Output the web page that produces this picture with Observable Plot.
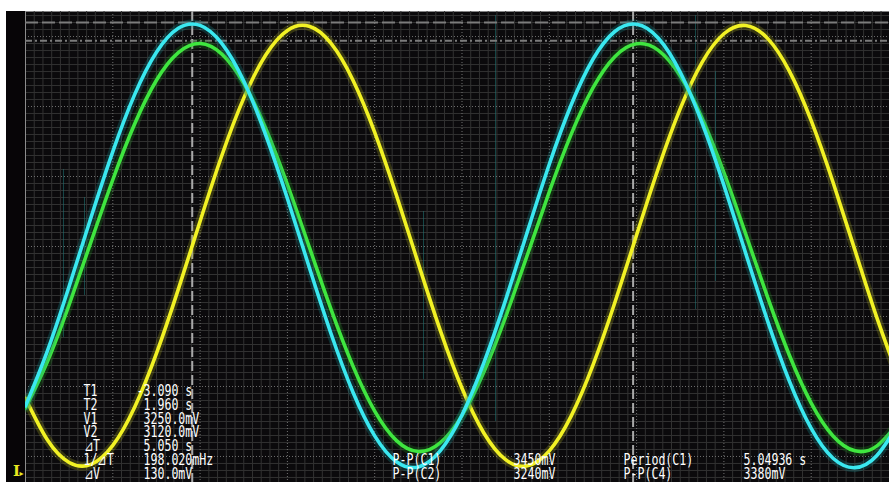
<!DOCTYPE html>
<html>
<head>
<meta charset="utf-8">
<script src="https://cdn.jsdelivr.net/npm/d3@7"></script>
<script src="https://cdn.jsdelivr.net/npm/@observablehq/plot@0.6"></script>
<style>
  html, body { margin: 0; padding: 0; background: #ffffff; }
  #scope { width: 889px; height: 482px; overflow: hidden; }
  #scope svg {
    display: block;
    background: linear-gradient(#070507, #070507) 6px 11px / 19px 471px no-repeat, #ffffff;
  }
  #scope text, #scope tspan { white-space: pre; }
</style>
</head>
<body>
<div id="scope"></div>
<script>
// Acquisition samples, seconds (1 s/div, -5 s .. +5 s)
const time = [-5.00, -4.75, -4.50, -4.25, -4.00, -3.75, -3.50, -3.25, -3.00, -2.75,
              -2.50, -2.25, -2.00, -1.75, -1.50, -1.25, -1.00, -0.75, -0.50, -0.25,
               0.00,  0.25,  0.50,  0.75,  1.00,  1.25,  1.50,  1.75,  2.00,  2.25,
               2.50,  2.75,  3.00,  3.25,  3.50,  3.75,  4.00,  4.25,  4.50,  4.75, 5.00];

// Channel voltages, mV
const c1 = [ 511,  903, 1366, 1857, 2328, 2735, 3038, 3209, 3230, 3100,
            2832, 2450, 1993, 1502, 1027,  611,  297,  112,   75,  190,
             446,  818, 1269, 1758, 2238, 2661, 2988, 3186, 3238, 3138,
            2895, 2534, 2088, 1601, 1119,  688,  350,  137,   70,  155, 385];
const c2 = [ 496,  827, 1235, 1683, 2127, 2525, 2838, 3035, 3100, 3024,
            2816, 2496, 2093, 1647, 1201,  797,  474,  263,  185,  247,
             442,  753, 1149, 1593, 2041, 2451, 2783, 3006, 3098, 3051,
            2868, 2567, 2178, 1738, 1288,  873,  531,  296,  190,  224, 393];
const c4 = [ 565,  269,  107,   93,  229,  502,  886, 1344, 1831, 2302,
            2710, 3017, 3194, 3223, 3101, 2840, 2466, 2014, 1528, 1053,
             637,  318,  127,   83,  190,  438,  802, 1248, 1733, 2211,
            2635, 2966, 3170, 3229, 3137, 2903, 2549, 2109, 1626, 1145, 713];

// Sparse glitch captures on C1 (time, low mV, high mV)
const glitchT  = [-4.565, -4.324, -0.441, 0.384, 2.675, 2.904];
const glitchLo = [  1000,   1300,    700,   400,  1200,  1400];
const glitchHi = [  2200,   2000,   1900,  3300,  3300,  2900];

// Cursor positions
const cursorT = [-3.090, 1.960];   // T1, T2 (s)
const cursorV1 = [3250.0];         // V1 (mV)
const cursorV2 = [3120.0];         // V2 (mV)

// Cursor readout
const readLabels = ["T1", "T2", "V1", "V2", "⊿T", "1/⊿T", "⊿V"];
const readValues = ["-3.090 s", " 1.960 s", " 3250.0mV", " 3120.0mV", " 5.050 s", " 198.020mHz", " 130.0mV"];

// Measurement readout
const measLabelsA = ["P-P(C1)", "P-P(C2)"];
const measValuesA = ["3450mV", "3240mV"];
const measLabelsB = ["Period(C1)", "P-P(C4)"];
const measValuesB = ["5.04936 s", "3380mV"];

const rows = (vals) => time.map((t, i) => ({t, v: vals[i]}));
const glitches = glitchT.map((t, i) => ({t, lo: glitchLo[i], hi: glitchHi[i]}));

// Screen graticule: 10 minor steps per division, 1 s and 500 mV per division
const majorX = d3.range(-4, 5, 1);
const minorX = d3.range(-50, 51).filter(k => k % 10 !== 0).map(k => k / 10);
const majorY = d3.range(150, 3300, 500);
const minorY = d3.range(0, 3350, 50).filter(v => (v - 150) % 500 !== 0);

const MONO = "DejaVu Sans Mono, Liberation Mono, monospace";
const textStyle = {fill: "#ffffff", fontFamily: MONO, fontSize: 11.6, lineHeight: 0.91,
                   frameAnchor: "bottom-left", lineAnchor: "bottom", textAnchor: "start", dy: -4};

function trace(vals, core, halo) {
  return [
    Plot.line(rows(vals), {x: "t", y: "v", curve: "natural", stroke: halo, strokeWidth: 9, strokeOpacity: 0.28, clip: true}),
    Plot.line(rows(vals), {x: "t", y: "v", curve: "natural", stroke: core, strokeWidth: 3.6, clip: true})
  ];
}

const chart = Plot.plot({
  width: 889,
  height: 482,
  marginTop: 11,
  marginLeft: 25,
  marginRight: 0,
  marginBottom: 0,
  x: {domain: [-5, 5], range: [25, 898], axis: null},
  y: {domain: [-36, 3329], axis: null},
  marks: [
    Plot.frame({fill: "#0b0a0c", stroke: null}),
    Plot.ruleX(minorX, {stroke: "#323232", strokeWidth: 1}),
    Plot.ruleY(minorY, {stroke: "#323232", strokeWidth: 1}),
    Plot.ruleX(majorX, {stroke: "#707070", strokeWidth: 1, strokeDasharray: "1,2"}),
    Plot.ruleY(majorY, {stroke: "#707070", strokeWidth: 1, strokeDasharray: "1,2"}),
    Plot.ruleX([-5], {stroke: "#8c8c8c", strokeWidth: 1}),
    Plot.ruleX(glitches, {x: "t", y1: "lo", y2: "hi", stroke: "#1f7070", strokeOpacity: 0.6}),
    Plot.ruleY(cursorV1, {stroke: "#7c7c7c", strokeWidth: 2, strokeDasharray: "13,4"}),
    Plot.ruleY(cursorV2, {stroke: "#7c7c7c", strokeWidth: 2, strokeDasharray: "7,3,2,3"}),
    Plot.ruleX(cursorT, {stroke: "#a8a8a8", strokeWidth: 2, strokeDasharray: "10,4"}),
    ...trace(c4, "#f2f224", "#a0a020"),
    ...trace(c2, "#3fe63f", "#1f8a1f"),
    ...trace(c1, "#3ae8f0", "#1a8c90"),
    Plot.text([readLabels.join("\n")], {...textStyle, dx: 58}),
    Plot.text([readValues.join("\n")], {...textStyle, dx: 111}),
    Plot.text([measLabelsA.join("\n")], {...textStyle, dx: 367}),
    Plot.text([measValuesA.join("\n")], {...textStyle, dx: 488}),
    Plot.text([measLabelsB.join("\n")], {...textStyle, dx: 598}),
    Plot.text([measValuesB.join("\n")], {...textStyle, dx: 718}),
    // trigger / ground markers in the left strip
    Plot.text(["I"], {frameAnchor: "bottom-left", dx: -9, dy: -7, fill: "#e8e820", fontSize: 15,
                      fontWeight: "bold", fontFamily: "DejaVu Serif", textAnchor: "middle"}),
    Plot.text(["▸"], {frameAnchor: "bottom-left", dx: -4, dy: -7, fill: "#e8e820", fontSize: 8,
                      fontFamily: "DejaVu Sans", textAnchor: "middle"})
  ]
});

// Tall, narrow readout glyphs like the instrument's bitmap font
chart.querySelectorAll('g[font-family^="DejaVu Sans Mono"] > text').forEach(t => {
  t.setAttribute("transform", (t.getAttribute("transform") || "") + " scale(1,1.3)");
});

document.getElementById("scope").appendChild(chart);
</script>
</body>
</html>
